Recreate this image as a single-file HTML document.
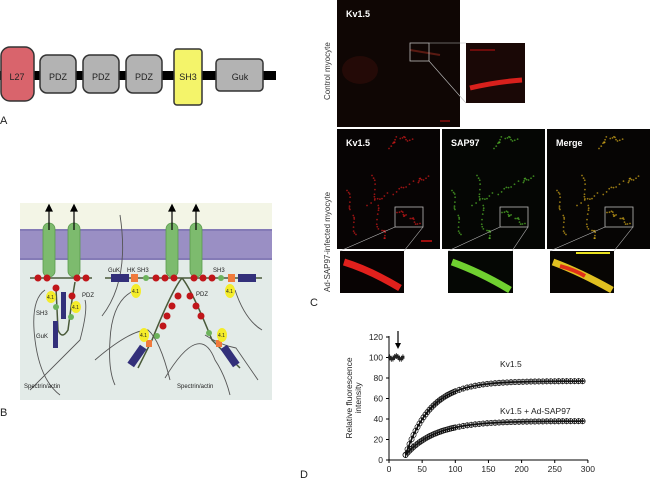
<!DOCTYPE html>
<html><head><meta charset="utf-8"><style>
html,body{margin:0;padding:0;background:#fff;width:650px;height:480px;overflow:hidden}
svg{display:block;font-family:"Liberation Sans",Arial,sans-serif}
</style></head><body>
<svg id="s" width="650" height="480" viewBox="0 0 650 480" xmlns="http://www.w3.org/2000/svg">
<!-- Panel A -->
<rect x="0" y="71" width="276" height="9" fill="#000"/>
<rect x="1" y="47" width="33" height="54" rx="9" fill="#d9646c" stroke="#333" stroke-width="1.5"/>
<rect x="40" y="55" width="36" height="38" rx="7" fill="#b3b3b3" stroke="#333" stroke-width="1.5"/>
<rect x="83" y="55" width="36" height="38" rx="7" fill="#b3b3b3" stroke="#333" stroke-width="1.5"/>
<rect x="126" y="55" width="36" height="38" rx="7" fill="#b3b3b3" stroke="#333" stroke-width="1.5"/>
<rect x="174" y="49" width="28" height="56" rx="3" fill="#f4f46a" stroke="#333" stroke-width="1.5"/>
<rect x="216" y="59" width="47" height="32" rx="4" fill="#b3b3b3" stroke="#333" stroke-width="1.5"/>
<g font-size="9" fill="#222" text-anchor="middle">
<text x="17" y="80">L27</text><text x="58" y="80">PDZ</text><text x="101" y="80">PDZ</text><text x="144" y="80">PDZ</text><text x="188" y="80">SH3</text><text x="240" y="80">Guk</text>
</g>
<text x="0" y="124" font-size="11" fill="#222">A</text>

<!-- Panel B -->
<rect x="20" y="203" width="252" height="197" fill="#e3ebe8"/>
<rect x="20" y="203" width="252" height="26" fill="#f3f5e6"/>
<rect x="20" y="229" width="252" height="31" fill="#9a8fc4"/>
<line x1="20" y1="230" x2="272" y2="230" stroke="#6f64a8"/><line x1="20" y1="259" x2="272" y2="259" stroke="#6f64a8"/>
<g fill="#7dbb6e" stroke="#5a9a4d" stroke-width="0.8">
<rect x="43" y="223" width="12" height="54" rx="6"/><rect x="68" y="223" width="12" height="54" rx="6"/>
<rect x="166" y="223" width="12" height="54" rx="6"/><rect x="190" y="223" width="12" height="54" rx="6"/>
</g>
<g stroke="#000" stroke-width="1.2" fill="#000">
<line x1="49" y1="230" x2="49" y2="210"/><path d="M46,211 L49,205 L52,211Z"/>
<line x1="74" y1="230" x2="74" y2="210"/><path d="M71,211 L74,205 L77,211Z"/>
<line x1="172" y1="230" x2="172" y2="210"/><path d="M169,211 L172,205 L175,211Z"/>
<line x1="196" y1="230" x2="196" y2="210"/><path d="M193,211 L196,205 L199,211Z"/>
</g>
<g stroke="#4a5a3a" stroke-width="1.5" fill="none">
<line x1="30" y1="278" x2="92" y2="278"/><line x1="105" y1="278" x2="262" y2="278"/>
<path d="M56,288 L58,330 Q62,340 68,330 L72,300 L75,282"/>
<path d="M182,278 Q172,290 152,340 L138,368"/><path d="M182,278 Q192,290 212,340 L240,368"/>
</g>
<g fill="none" stroke="#555" stroke-width="0.9">
<path d="M45,290 Q30,300 35,340 Q40,380 60,395"/><path d="M30,390 Q60,360 80,340 Q88,310 85,300"/>
<path d="M135,290 Q112,300 110,340 Q108,370 115,385"/><path d="M95,360 Q130,330 148,330 Q160,340 170,380"/>
<path d="M235,290 Q245,320 262,330"/><path d="M205,335 Q220,345 236,348 L258,380"/><path d="M165,378 Q200,320 215,360 Q225,375 230,395"/>
<path d="M120,215 Q130,280 102,316"/>
</g>
<g fill="#c0161a">
<circle cx="38" cy="278" r="3.5"/><circle cx="47" cy="278" r="3.5"/><circle cx="77" cy="278" r="3.5"/><circle cx="86" cy="278" r="3.5"/>
<circle cx="56" cy="288" r="3.5"/><circle cx="72" cy="296" r="3.5"/>
<circle cx="156" cy="278" r="3.5"/><circle cx="165" cy="278" r="3.5"/><circle cx="174" cy="278" r="3.5"/>
<circle cx="194" cy="278" r="3.5"/><circle cx="203" cy="278" r="3.5"/><circle cx="212" cy="278" r="3.5"/>
<circle cx="178" cy="296" r="3.5"/><circle cx="172" cy="306" r="3.5"/><circle cx="167" cy="316" r="3.5"/><circle cx="163" cy="326" r="3.5"/>
<circle cx="190" cy="296" r="3.5"/><circle cx="196" cy="306" r="3.5"/><circle cx="201" cy="316" r="3.5"/>
</g>
<g fill="#6db35c">
<circle cx="146" cy="278" r="3"/><circle cx="221" cy="278" r="3"/><circle cx="56" cy="307" r="3"/><circle cx="71" cy="317" r="3"/>
<circle cx="157" cy="336" r="3"/><circle cx="209" cy="333" r="3"/>
</g>
<g fill="#f07a3c"><rect x="131" y="274" width="7" height="8"/><rect x="228" y="274" width="7" height="8"/><rect x="146" y="340" width="6" height="7"/><rect x="216" y="340" width="6" height="7"/></g>
<g fill="#f4ec2a">
<ellipse cx="51" cy="297" rx="5" ry="6"/><ellipse cx="76" cy="307" rx="5" ry="6"/>
<ellipse cx="136" cy="291" rx="5" ry="7"/><ellipse cx="230" cy="291" rx="5" ry="7"/>
<ellipse cx="144" cy="335" rx="5" ry="7"/><ellipse cx="222" cy="335" rx="5" ry="7"/>
</g>
<g fill="#33307a">
<rect x="61" y="292" width="5" height="27"/><rect x="53" y="321" width="5" height="27"/>
<rect x="111" y="274" width="18" height="8"/><rect x="238" y="274" width="18" height="8"/>
<rect x="133" y="345" width="8" height="22" transform="rotate(35 137 356)"/>
<rect x="226" y="345" width="8" height="22" transform="rotate(-35 230 356)"/>
</g>
<g font-size="6" fill="#222">
<text x="108" y="272">GuK</text><text x="127" y="272">HK SH3</text><text x="213" y="272">SH3</text>
<text x="196" y="296">PDZ</text><text x="82" y="297">PDZ</text><text x="36" y="315">SH3</text><text x="36" y="338">GuK</text>
<text x="47" y="299" font-size="5">4.1</text><text x="72" y="309" font-size="5">4.1</text>
<text x="132" y="293" font-size="5">4.1</text><text x="226" y="293" font-size="5">4.1</text>
<text x="140" y="337" font-size="5">4.1</text><text x="218" y="337" font-size="5">4.1</text>
<text x="24" y="388">Spectrin/actin</text><text x="177" y="388">Spectrin/actin</text>
</g>
<text x="0" y="416" font-size="11" fill="#222">B</text>

<!-- Panel C -->
<rect x="337" y="0" width="123" height="127" fill="#0f0604"/>
<rect x="466" y="43" width="59" height="60" fill="#1a0806"/>
<rect x="337" y="129" width="103" height="120" fill="#070404"/>
<rect x="442" y="129" width="103" height="120" fill="#050604"/>
<rect x="547" y="129" width="103" height="120" fill="#060504"/>
<rect x="340" y="251" width="64" height="42" fill="#080303"/>
<rect x="448" y="251" width="65" height="42" fill="#050704"/>
<rect x="550" y="251" width="64" height="42" fill="#070503"/>
<ellipse cx="360" cy="70" rx="18" ry="14" fill="#240a07"/>
<path d="M470,88 Q495,82 522,80" stroke="#d8201c" stroke-width="5" fill="none"/>
<line x1="470" y1="50" x2="495" y2="50" stroke="#c01010"/>
<line x1="440" y1="121" x2="450" y2="121" stroke="#c01010"/>
<path d="M410,50 L440,55" stroke="#5a1a12" stroke-width="2" fill="none"/>
<rect x="410" y="43" width="19" height="18" fill="none" stroke="#bbb" stroke-width="0.8"/>
<line x1="429" y1="43" x2="466" y2="43" stroke="#bbb" stroke-width="0.6"/><line x1="429" y1="61" x2="466" y2="103" stroke="#bbb" stroke-width="0.6"/>
<g id="pats"></g>
<path d="M344,262 Q370,270 400,288" stroke="#e0201c" stroke-width="7" fill="none"/>
<path d="M452,262 Q480,272 510,290" stroke="#70d030" stroke-width="7" fill="none"/>
<path d="M553,262 Q580,272 612,290" stroke="#e0c020" stroke-width="7" fill="none"/>
<path d="M560,266 Q575,270 585,276" stroke="#e03018" stroke-width="4" fill="none"/>
<line x1="576" y1="253" x2="610" y2="253" stroke="#e8e020" stroke-width="2"/>
<line x1="421" y1="241" x2="432" y2="241" stroke="#d01010" stroke-width="1.5"/>
<g fill="#fff" font-size="9" font-weight="bold">
<text x="346" y="17">Kv1.5</text><text x="346" y="146">Kv1.5</text><text x="451" y="146">SAP97</text><text x="556" y="146">Merge</text>
</g>
<g font-size="8" fill="#333">
<text transform="translate(330,100) rotate(-90)">Control myocyte</text>
<text transform="translate(330,292) rotate(-90)">Ad-SAP97-infected myocyte</text>
</g>
<text x="310" y="306" font-size="11" fill="#222">C</text>

<!-- Panel D -->
<g id="plot" font-size="8.5" fill="#222">
<line x1="389" y1="336" x2="389" y2="460" stroke="#000"/>
<line x1="389" y1="460" x2="588" y2="460" stroke="#000"/>
<text x="300" y="478" font-size="11">D</text>
<text transform="translate(352,398) rotate(-90)" text-anchor="middle">Relative fluorescence</text>
<text transform="translate(361,398) rotate(-90)" text-anchor="middle">intensity</text>
<text x="500" y="367">Kv1.5</text>
<text x="500" y="414">Kv1.5 + Ad-SAP97</text>
<line x1="398" y1="331" x2="398" y2="344" stroke="#000" stroke-width="1.2"/><path d="M395,343 L398,349 L401,343Z" fill="#000"/>
</g>
</svg>
<script>
var NS="http://www.w3.org/2000/svg",s=document.getElementById('plot');
function el(t,a,p){var e=document.createElementNS(NS,t);for(var k in a)e.setAttribute(k,a[k]);(p||s).appendChild(e);return e;}
var X=function(t){return 389+t*0.663},Y=function(v){return 460-v*1.025};
for(var v=0;v<=120;v+=20){var t=el('text',{x:383,y:Y(v)+3,'text-anchor':'end'});t.textContent=v;el('line',{x1:386,y1:Y(v),x2:389,y2:Y(v),stroke:'#000'});}
for(var u=0;u<=300;u+=50){var t=el('text',{x:X(u),y:472,'text-anchor':'middle'});t.textContent=u;el('line',{x1:X(u),y1:460,x2:X(u),y2:463,stroke:'#000'});}
for(var u=1;u<=21;u+=2.5){var yy=Y(100+Math.sin(u*3)*1.5);el('line',{x1:X(u),y1:yy-3,x2:X(u),y2:yy+3,stroke:'#222','stroke-width':0.8});el('rect',{x:X(u)-1.5,y:yy-1.5,width:3,height:3,fill:'#222'});}
function curve(A,B,tau){var d='';for(var u=25;u<=295;u+=2){var v=A-B*Math.exp(-(u-25)/tau);d+=(u==25?'M':'L')+X(u).toFixed(1)+','+Y(v).toFixed(1);}
el('path',{d:d,fill:'none',stroke:'#111','stroke-width':1.6});
for(var u=25;u<=295;u+=(u<100?3:6)){var v=A-B*Math.exp(-(u-25)/tau);var x=X(u),y=Y(v);
el('line',{x1:x,y1:y-3,x2:x,y2:y+3,stroke:'#111','stroke-width':0.8});
el('circle',{cx:x,cy:y,r:2.6,fill:'none',stroke:'#111','stroke-width':0.7});}}
curve(77,72,38);curve(38,33,45);
var p=document.getElementById('pats');
var imgs=[[337,'#c81818'],[442,'#50b028'],[547,'#c8a018']];
var paths=[[[30,75],[55,64],[80,52],[92,48]],[[52,18],[62,8],[78,12]],[[35,45],[40,75],[42,105]],[[60,82],[72,88],[85,97]],[[10,60],[15,85],[20,110]],[[45,100],[50,112]]];
imgs.forEach(function(im,i){var ox=im[0],oy=129;
paths.forEach(function(pt){for(var k=0;k<pt.length-1;k++){var a=pt[k],b=pt[k+1];for(var j=0;j<8;j++){var f=j/8;
el('circle',{cx:ox+a[0]+(b[0]-a[0])*f+(Math.sin(j*7+k)*1.5),cy:oy+a[1]+(b[1]-a[1])*f+(Math.cos(j*5)*1.5),r:0.9,fill:im[1],'fill-opacity':0.75},p);}}});
el('rect',{x:ox+58,y:oy+78,width:28,height:20,fill:'none',stroke:'#bbb','stroke-width':0.8},p);
var ix=[340,448,550][i];
el('line',{x1:ox+58,y1:oy+98,x2:ix,y2:251,stroke:'#bbb','stroke-width':0.6},p);
el('line',{x1:ox+86,y1:oy+98,x2:ix+64,y2:251,stroke:'#bbb','stroke-width':0.6},p);
});
</script>
</body></html>
